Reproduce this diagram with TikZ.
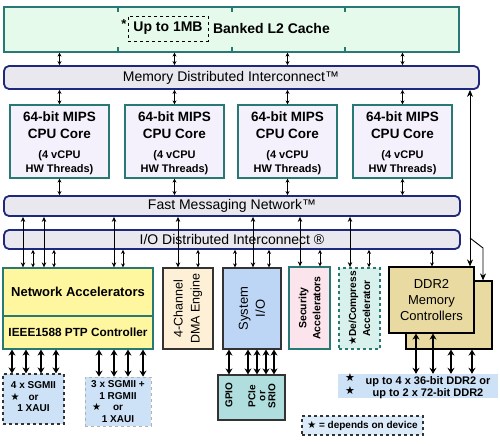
\documentclass[tikz,border=0pt]{standalone}
\usepackage{fontspec}
\setmainfont{Liberation Sans}
\newfontfamily\symfont{DejaVu Sans}
\usetikzlibrary{arrows.meta,positioning}
\definecolor{soctealline}{RGB}{40,120,115}
\definecolor{socnavy}{RGB}{30,40,125}
\definecolor{socl2}{RGB}{230,250,236}
\definecolor{socbar}{RGB}{232,232,238}
\definecolor{soccpu}{RGB}{244,240,252}
\definecolor{socnet}{RGB}{255,247,160}
\definecolor{socdma}{RGB}{253,240,214}
\definecolor{socsio}{RGB}{190,214,245}
\definecolor{socsec}{RGB}{251,228,236}
\definecolor{socdec}{RGB}{216,241,236}
\definecolor{socddr}{RGB}{232,218,160}
\definecolor{socgpio}{RGB}{176,222,222}
\definecolor{soclbl}{RGB}{205,226,247}
\newcommand{\dstar}{{\symfont\bfseries ★}}

\begin{document}
\begin{tikzpicture}[x=1pt, y=-1pt, every node/.style={font=\fontsize{14}{17}\selectfont, inner sep=0pt},
  box/.style={draw=soctealline, line width=1.2pt, align=center},
  bar/.style={draw=socnavy, fill=socbar, line width=1.8pt, rounded corners=5pt, minimum width=456pt, minimum height=20pt},
  devbox/.style={draw=black!80, line width=1.2pt},
  vtext/.style={rotate=90, align=center, font=\fontsize{12.5}{17}\selectfont},
  vbold/.style={rotate=90, align=center, font=\bfseries\fontsize{10.5}{14}\selectfont},
  smalltxt/.style={align=center, font=\bfseries\fontsize{10}{11.5}\selectfont},
  sarr/.style={{Stealth[length=4pt,width=4pt]}-{Stealth[length=4pt,width=4pt]}, line width=0.9pt},
  larr/.style={{Stealth[length=5pt,width=4.5pt]}-{Stealth[length=5pt,width=4.5pt]}, line width=0.9pt},
  barr/.style={{Stealth[length=6pt,width=7pt]}-{Stealth[length=6pt,width=7pt]}, line width=1.8pt}]
\useasboundingbox (0,0) rectangle (500,446);
% Cache
\node[box, fill=socl2, minimum width=455pt, minimum height=45pt] (l2) at (231.5,29.5) {};
\foreach \x in {118,232,345} {
  \draw[soctealline, line width=1.8pt] (l2.north -| \x,0) -- ++(0,6);
  \draw[soctealline, line width=1.8pt] (l2.south -| \x,0) -- ++(0,-6);
}
\node[draw, dashed, line width=0.8pt, font=\bfseries\fontsize{14}{17}\selectfont, minimum width=80pt, minimum height=25pt] (l2size) at (168,28.5) {Up to 1MB};
\node[right=4.5pt of l2size, font=\bfseries\fontsize{14}{17}\selectfont] (l2name) {Banked L2 Cache};
\node[left=1pt of l2size.west, yshift=4pt, font=\bfseries\fontsize{13}{15}\selectfont] (l2star) {*};
% Interconnects
\node[bar, minimum width=475pt, minimum height=23pt] (mdi) at (241.5,77.5) {};
\node (mditxt) at (231,78) {Memory Distributed Interconnect™};
\node[bar] (fmn) at (232,206) {Fast Messaging Network™};
\node[bar, minimum height=19pt] (iodi) at (232,239.5) {I/O Distributed Interconnect ®};
% Cores
\foreach \i/\x in {1/59.5,2/174.5,3/287.5,4/402.5} {
  \node[box, fill=soccpu, minimum width=99pt, minimum height=73pt] (cpu\i) at (\x,141.5) {};
  \node[align=center, font=\bfseries\fontsize{13.5}{17}\selectfont] (cput\i) at (\x,125) {64-bit MIPS\\CPU Core};
  \node[align=center, font=\bfseries\fontsize{11}{14}\selectfont] (cpus\i) at (\x,163) {(4 vCPU\\HW Threads)};
  \draw[sarr] (l2.south -| cpu\i) -- (mdi.north -| cpu\i);
  \draw[sarr] (mdi.south -| cpu\i) -- (cpu\i.north);
  \draw[sarr] (cpu\i.south) -- (fmn.north -| cpu\i);
}
% Devices
\node[box, fill=socnet, minimum width=150pt, minimum height=48pt] (net) at (78,292) {};
\node[font=\bfseries\fontsize{13}{15}\selectfont] (nettxt) at (78,292) {Network Accelerators};
\node[box, fill=socnet, minimum width=150pt, minimum height=33pt] (ptp) at (78,332.5) {};
\node[font=\bfseries\fontsize{11.8}{14}\selectfont] (ptptxt) at (78,332) {IEEE1588 PTP Controller};
\node[devbox, fill=socdma, minimum width=50pt, minimum height=81pt] (dma) at (188,308.5) {};
\node[vtext] (dmatxt) at (dma) {4-Channel\\DMA Engine};
\node[devbox, fill=socsio, minimum width=58pt, minimum height=81pt] (sio) at (252,308.5) {};
\node[vtext, font=\fontsize{13}{17}\selectfont] (siotxt) at (sio) {System\\I/O};
\node[box, fill=socsec, minimum width=41pt, minimum height=82pt] (sec) at (309.5,308) {};
\node[vbold] (sectxt) at (sec) {Security\\Accelerators};
\node[box, fill=socdec, dashed, line width=1.8pt, minimum width=41pt, minimum height=81pt] (dec) at (359.5,308.5) {};
\node[vbold, font=\bfseries\fontsize{10.2}{14}\selectfont] (dectxt) at (dec) {\dstar De/Compress\\Accelerator};
\node[devbox, draw=black, fill=socddr, minimum width=86pt, minimum height=68pt] (ddrback) at (449,315) {};
\node[devbox, draw=black, fill=socddr, minimum width=85pt, minimum height=66pt, align=center, font=\fontsize{13}{16}\selectfont] (ddr) at (431.5,300) {DDR2\\Memory\\Controllers};
% Links to the interconnects
\foreach \x/\d in {23/net,44/net,114/net,178/dma,253/sio,300/sec,350/dec} {
  \draw[larr] (fmn.south -| \x,0) -- (\d.north -| \x,0);
}
\foreach \x/\d in {33/net,54/net,123/net,198/dma,235/sio,269/sio,320/sec,369/dec,432/ddr} {
  \draw[sarr] (iodi.south -| \x,0) -- (\d.north -| \x,0);
}
\coordinate (split) at (470,238);
\draw[{Stealth[length=7pt,width=6pt]}-{Stealth[length=7pt,width=6pt]}, line width=0.9pt] (mdi.south -| 470,0) -- (ddr.north -| 470,0);
\draw[-{Stealth[length=7pt,width=6pt]}, line width=0.9pt] (split) -- (483,248) -- (ddrback.north -| 483,0);
% Ports
\node[draw=black!80, dashed, line width=1.2pt, fill=soclbl, minimum width=61pt, minimum height=50pt] (sgmiia) at (33.5,399) {};
\node[smalltxt] (sgmiiatxt) at (33.5,397) {4 x SGMII\\\llap{\dstar\hspace{9pt}}or\\1 XAUI};
\node[draw=gray!60, dashed, line width=0.8pt, fill=soclbl, minimum width=66pt, minimum height=49pt] (sgmiib) at (118,401.5) {};
\node[smalltxt] (sgmiibtxt) at (118,401.5) {3 x SGMII +\\1 RGMII\\\llap{\dstar\hspace{12pt}}or\\1 XAUI};
\node[devbox, fill=socgpio, minimum width=67pt, minimum height=45pt] (gpio) at (251.5,397.5) {};
\node[rotate=90, font=\bfseries\fontsize{10}{10}\selectfont] (gpiotxt) at (229,395) {GPIO};
\node[rotate=90, align=center, font=\bfseries\fontsize{10}{10}\selectfont] (pcietxt) at (262,396) {PCIe\\or\\SRIO};
\node[fill=soclbl, minimum width=160pt, minimum height=24pt] (ddrlbl) at (418,386) {};
\node[align=center, font=\bfseries\fontsize{11}{12}\selectfont] (ddrtxt) at (428,388) {up to 4 x 36-bit DDR2 or\\up to 2 x 72-bit DDR2};
\node[align=center, font=\fontsize{11}{13}\selectfont] (ddrstar) at (350,384) {\dstar\\\dstar};
\foreach \x in {12,26,41,56} {
  \draw[barr] (ptp.south -| \x,0) -- (sgmiia.north -| \x,0);
}
\foreach \x in {99,114,128,143} {
  \draw[barr] (ptp.south -| \x,0) -- (sgmiib.north -| \x,0);
}
\foreach \x in {229,248,257,266,274} {
  \draw[barr] (sio.south -| \x,0) -- (gpio.north -| \x,0);
}
\foreach \x/\d in {416/ddr,433/ddr,451/ddrback,472/ddrback} {
  \draw[barr] (\d.south -| \x,0) -- (ddrlbl.north -| \x,0);
}
% Legend
\node[draw=black!80, dashed, line width=1.2pt, fill=soclbl!70, minimum width=121pt, minimum height=19pt, font=\bfseries\fontsize{10}{12}\selectfont] (legend) at (362.5,425.5) {\dstar{} = depends on device};
\end{tikzpicture}
\end{document}
